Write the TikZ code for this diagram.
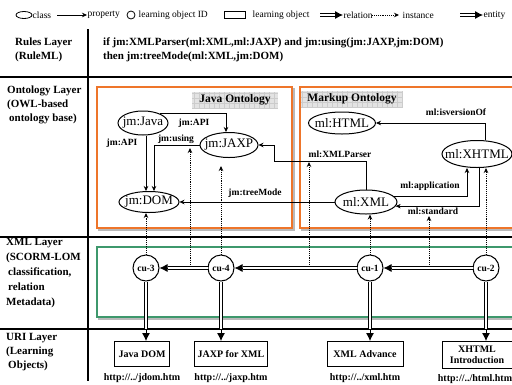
\documentclass[tikz,border=0pt]{standalone}
\usepackage{fontspec}
\setmainfont{Liberation Serif}
\usetikzlibrary{arrows,arrows.meta,shapes,positioning}
\definecolor{ontorange}{RGB}{238,117,42}
\definecolor{xmlgreen}{RGB}{62,152,108}
\newcommand{\ctr}[1]{\makebox[0pt]{#1}}
\tikzstyle{cls} = [ellipse, draw=black, line width=1pt, inner sep=0pt, font=\fontsize{13}{13}\selectfont]
\tikzstyle{cuid} = [circle, draw=black, line width=1pt, minimum size=26pt, inner sep=0pt, font=\bfseries\fontsize{9.5}{10}\selectfont]
\tikzstyle{lobj} = [rectangle, draw=black, line width=1pt, minimum height=25pt, inner sep=2pt, align=center, font=\bfseries\fontsize{10}{11}\selectfont]
\tikzstyle{url} = [inner sep=1pt, font=\bfseries\fontsize{10}{10}\selectfont]
\tikzstyle{prop} = [inner sep=1pt, font=\bfseries\fontsize{9.5}{10}\selectfont]
\tikzstyle{layer} = [anchor=north west, align=left, inner sep=0pt, font=\bfseries\fontsize{11}{14}\selectfont]
\tikzstyle{legtxt} = [anchor=west, inner sep=0.5pt, font=\fontsize{9.5}{10}\selectfont]
\tikzstyle{ttl} = [fill=gray!22, inner sep=0pt, font=\bfseries\fontsize{11.5}{12}\selectfont,
  path picture={\draw[gray!40, very thin] (path picture bounding box.south west) grid[step=5pt] (path picture bounding box.north east);}]
\tikzstyle{ontbox} = [draw=ontorange, line width=2pt, fill=white]
\tikzstyle{grnbox} = [draw=xmlgreen, line width=1.5pt, fill=white]
\tikzstyle{shade} = [draw=gray!55, line width=2pt]
\tikzstyle{sep} = [line width=1.6pt]
\tikzstyle{arrow} = [line width=0.6pt, -{Stealth[length=5pt,width=4.5pt]}]
\tikzstyle{inst} = [densely dotted, line width=0.9pt, -{Stealth[length=5pt,width=4.5pt]}]
\tikzstyle{rel} = [double, double distance=2pt, line width=0.8pt]
\tikzstyle{relhead} = [line width=0.8pt, -{Latex[length=8pt,width=8pt]}]

\begin{document}
\begin{tikzpicture}[x=1pt,y=-1pt]
\useasboundingbox (0,0) rectangle (512,384);

% legend
\node (lell) [draw, ellipse, thick, minimum width=16, minimum height=7, inner sep=0pt] at (24,15) {};
\node (lcls) [legtxt] at (32,15) {class};
\node (lprop) [legtxt] at (87,15) {property};
\draw [arrow] ([xshift=-30pt]lprop.west) -- (lprop.west);
\node (lcirc) [draw, circle, thick, minimum size=8, inner sep=0pt] at (131,15) {};
\node (lid) [legtxt] at (138,15) {learning object ID};
\node (lrect) [draw, thick, minimum width=21, minimum height=7, inner sep=0pt] at (234.5,14.5) {};
\node (lobjt) [legtxt] at (252,15) {learning object};
\node (lrel) [legtxt] at (343,15) {relation};
\draw [rel] ([xshift=-23pt]lrel.west) -- ([xshift=-8pt]lrel.west);
\draw [relhead] ([xshift=-8pt]lrel.west) -- (lrel.west);
\node (linst) [legtxt] at (402,15) {instance};
\draw [inst] ([xshift=-30pt]linst.west) -- ([xshift=-3pt]linst.west);
\node (lent) [legtxt] at (483,15) {entity};
\draw [rel] ([xshift=-23pt]lent.west) -- ([xshift=-8pt]lent.west);
\draw [relhead] ([xshift=-8pt]lent.west) -- (lent.west);

% layer separators
\draw [sep] (88,29) -- (88,381);
\draw [sep] (0,77) -- (512,77);
\draw [sep] (0,237) -- (512,237);
\draw [sep] (0,329) -- (512,329);

% layer names
\node (rules) [layer] at (15,38) {Rules Layer\\(RuleML)};
\node (ontl) [layer] at (7,86) {Ontology Layer\\(OWL-based\\\hspace*{2pt}ontology base)};
\node (xmll) [layer, font=\bfseries\fontsize{11}{15}\selectfont] at (6,238) {XML Layer\\(SCORM-LOM\\\hspace*{2pt}classification,\\\hspace*{2pt}relation\\Metadata)};
\node (uril) [layer] at (6,333) {URI Layer\\(Learning\\\hspace*{2pt}Objects)};

% rule
\node (rule) [layer] at (103,38) {if jm:XMLParser(ml:XML,ml:JAXP) and jm:using(jm:JAXP,jm:DOM)\\then jm:treeMode(ml:XML,jm:DOM)};

% ontology boxes
\draw [shade] (99,89) rectangle (294,230);
\draw [ontbox] (97,87) rectangle (292,228);
\draw [shade] (302,89) rectangle (520,230);
\draw [ontbox] (300,87) rectangle (518,228);
\draw [shade] (99,249) rectangle (520,319);
\draw [grnbox] (97,247) rectangle (518,317);
\node (jtitle) [ttl, minimum width=86, minimum height=16] at (235,100) {Java Ontology};
\node (mtitle) [ttl, minimum width=102, minimum height=17] at (352,99) {Markup Ontology};

% classes
\node (java) [cls, minimum width=50, minimum height=24] at (143,123) {\ctr{jm:Java}};
\node (jaxp) [cls, minimum width=58, minimum height=25] at (229,145) {\ctr{jm:JAXP}};
\node (dom) [cls, minimum width=60, minimum height=21] at (149,202) {\ctr{jm:DOM}};
\node (html) [cls, minimum width=67, minimum height=22] at (342,123) {\ctr{ml:HTML}};
\node (xhtml) [cls, minimum width=70, minimum height=27] at (477,154) {\ctr{ml:XHTML}};
\node (xml) [cls, minimum width=62, minimum height=24] at (366,202) {\ctr{ml:XML}};

% properties
\draw [arrow] ([xshift=-3pt]dom.north |- java.south) -- ([xshift=-3pt]dom.north);
\node (api1) [prop] at (122,143) {jm:API};
\draw [arrow] (java.30) -| ([xshift=-3pt]jaxp.north);
\node (api2) [prop] at (194,123) {jm:API};
\draw [arrow] (jaxp.west) -| ([xshift=5pt]dom.north);
\node (using) [prop] at (176,139) {jm:using};
\draw [arrow] (xml.north) |- (274,161) |- (jaxp.east);
\node (parser) [prop] at (340,154) {ml:XMLParser};
\draw [arrow] (xml.west) -- (dom.east);
\node (tree) [prop] at (255,193) {jm:treeMode};
\draw [arrow] (xml.12) -| ([xshift=-10pt]xhtml.south);
\node (appl) [prop] at (430,186) {ml:application};
\draw [arrow] ([xshift=2pt]xhtml.south) |- (xml.-8);
\node (std) [prop] at (433,211) {ml:standard};
\draw [arrow] ([xshift=8pt]xhtml.north) |- (html.east);
\node (isv) [prop] at (456,112) {ml:isversionOf};

% learning object IDs
\node (cu3) [cuid] at (146,268) {cu-3};
\node (cu4) [cuid] at (221,268) {cu-4};
\node (cu1) [cuid] at (370,268) {cu-1};
\node (cu2) [cuid] at (486,268) {cu-2};

\draw [rel] (cu2.west) -- ([xshift=8pt]cu1.east);
\draw [relhead] ([xshift=8pt]cu1.east) -- (cu1.east);
\draw [rel] (cu1.west) -- ([xshift=8pt]cu4.east);
\draw [relhead] ([xshift=8pt]cu4.east) -- (cu4.east);
\draw [rel] (cu4.west) -- ([xshift=8pt]cu3.east);
\draw [relhead] ([xshift=8pt]cu3.east) -- (cu3.east);

% instances
\coordinate (i4) at (221,166);
\coordinate (iu0) at (190,265);
\coordinate (iu1) at (190,148);
\coordinate (ip0) at (309,265);
\coordinate (ip1) at (309,162);
\coordinate (is0) at (429,265);
\coordinate (is1) at (429,216);
\draw [inst] (cu3.north) -- (cu3.north |- dom.south);
\draw [inst] (cu4.north) -- (i4);
\draw [inst] (iu0) -- (iu1);
\draw [inst] (ip0) -- (ip1);
\draw [inst] (is0) -- (is1);
\draw [inst] (cu1.north) -- (cu1.north |- xml.south);
\draw [inst] (cu2.north) -- (cu2.north |- xhtml.south);

% learning objects
\node (jdom) [lobj, minimum width=55] at (142,354) {Java DOM};
\node (jaxpx) [lobj, minimum width=73] at (231,354) {JAXP for XML};
\node (xmladv) [lobj, minimum width=76] at (365,354) {XML Advance};
\node (xhtmlin) [lobj, minimum width=70, minimum height=27] at (477,355) {XHTML\\Introduction};
\node (jdomu) [url, below=5pt of jdom] {http://../jdom.htm};
\node (jaxpu) [url, below=5pt of jaxpx] {http://../jaxp.htm};
\node (xmlu) [url, below=5pt of xmladv] {http://../xml.htm};
\node (htmlu) [url, below=4pt of xhtmlin, xshift=-2pt] {http://../html.htm};

% entities
\coordinate (e3) at (cu3 |- 0,329);
\coordinate (e4) at (cu4 |- 0,329);
\coordinate (e1) at (cu1 |- 0,329);
\coordinate (e2) at (cu2 |- 0,329);
\draw [rel] (cu3.south) -- (e3);
\draw [rel] (cu4.south) -- (e4);
\draw [rel] (cu1.south) -- (e1);
\draw [rel] (cu2.south) -- (e2);
\draw [relhead] (e3) -- (e3 |- jdom.north);
\draw [relhead] (e4) -- (e4 |- jaxpx.north);
\draw [relhead] (e1) -- (e1 |- xmladv.north);
\draw [relhead] (e2) -- (e2 |- xhtmlin.north);
\end{tikzpicture}
\end{document}
